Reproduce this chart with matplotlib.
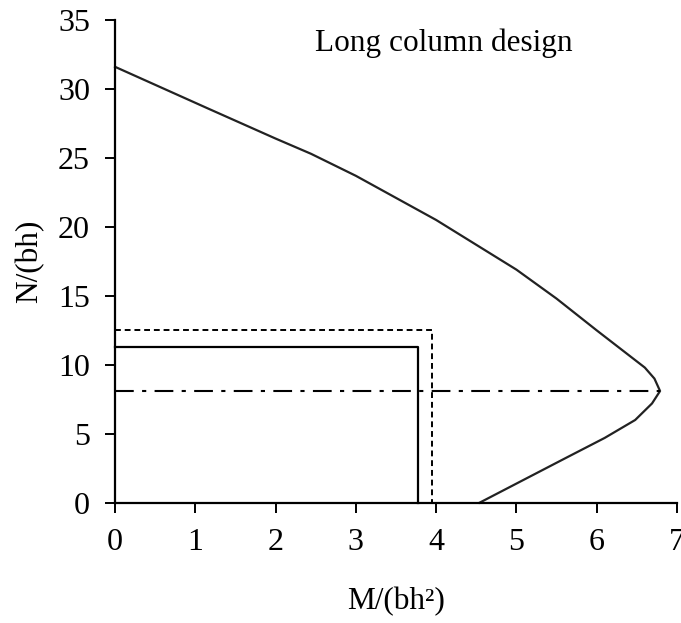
import matplotlib
matplotlib.use('Agg')
import matplotlib.pyplot as plt

# interaction curve
curve_m = [0, 1.15, 2.0, 2.44, 3.0, 3.5, 4.0, 4.5, 5.0, 5.5, 6.0, 6.4, 6.6, 6.72, 6.79,
           6.69, 6.48, 6.1, 5.6, 4.54]
curve_n = [31.6, 28.6, 26.4, 25.3, 23.7, 22.1, 20.5, 18.7, 16.9, 14.8, 12.5, 10.7, 9.8, 9.0, 8.1,
           7.2, 6.0, 4.7, 3.2, 0]

# design boxes (solid and dashed) and balance line
solid_m = [0, 3.77, 3.77]
solid_n = [11.3, 11.3, 0]
dashed_m = [0, 3.95, 3.95]
dashed_n = [12.5, 12.5, 0]
balance_m = [0, 6.79]
balance_n = [8.1, 8.1]

x_ticks = [0, 1, 2, 3, 4, 5, 6, 7]
y_ticks = [0, 5, 10, 15, 20, 25, 30, 35]

plt.rcParams['font.family'] = ['Liberation Serif', 'DejaVu Serif']

fig = plt.figure(figsize=(6.81, 6.23), dpi=100)
ax = fig.add_axes([0.169, 0.193, 0.825, 0.775])

ax.plot(curve_m, curve_n, color='#222222', lw=1.6, clip_on=False)
ax.plot(solid_m, solid_n, color='black', lw=1.6, clip_on=False)
ax.plot(dashed_m, dashed_n, color='black', lw=1.4, dashes=(3, 2), clip_on=False)
ax.plot(balance_m, balance_n, color='black', lw=1.5, dashes=(9, 4, 2, 4), clip_on=False)

ax.text(4.09, 33.3, 'Long column design', fontsize=22.5, ha='center', va='center')

ax.set_xlim(0, 7)
ax.set_ylim(0, 35)
ax.set_xticks(x_ticks)
ax.set_yticks(y_ticks)
ax.spines['top'].set_visible(False)
ax.spines['right'].set_visible(False)
for s in ['left', 'bottom']:
    ax.spines[s].set_linewidth(1.6)
ax.tick_params(direction='out', length=7, width=1.4, labelsize=23, pad=11)

ax.set_xlabel('M/(bh²)', fontsize=22.5, labelpad=22)
ax.set_ylabel('N/(bh)', fontsize=22.5, labelpad=10)

fig.savefig('out.png', dpi=100)
